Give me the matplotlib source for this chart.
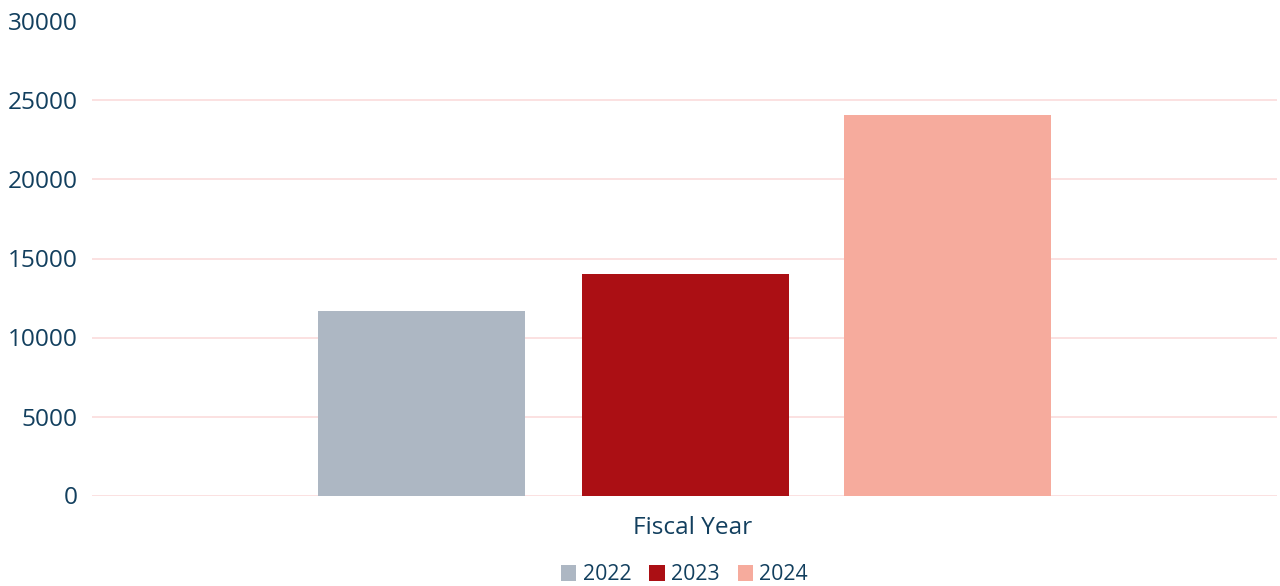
import matplotlib
matplotlib.use("Agg")
import matplotlib.pyplot as plt
from matplotlib.patches import Patch
from matplotlib.transforms import ScaledTranslation

categories = ["Fiscal Year"]
series_names = ["2022", "2023", "2024"]
values_2022 = [11680]
values_2023 = [14020]
values_2024 = [24080]
series_values = [values_2022, values_2023, values_2024]
colors = ["#adb7c3", "#ab0f14", "#f6ab9d"]
yticks = [0, 5000, 10000, 15000, 20000, 25000, 30000]

text_color = "#123f5e"
plt.rcParams['font.family'] = ['Open Sans', 'DejaVu Sans']

W, H = 1280, 586
fig = plt.figure(figsize=(W / 100, H / 100), dpi=100)
ax = fig.add_axes([92 / W, 1 - 495.5 / H, (1277 - 92) / W, (495.5 - 21.5) / H])

bar_w = 207 / 1185
offsets = [-263 / 1185, 0.5 / 1185, 263 / 1185]
x = list(range(len(categories)))
for name, vals, c, off in zip(series_names, series_values, colors, offsets):
    ax.bar([xi + off for xi in x], vals, width=bar_w, color=c, label=name, zorder=3)

ax.set_xlim(-0.5, len(categories) - 0.5)
ax.set_ylim(0, 30000)
ax.set_yticks(yticks)
ax.set_yticklabels([str(t) for t in yticks])
ax.set_xticks(x)
ax.set_xticklabels(categories)
ax.tick_params(axis='y', length=0, pad=10.5, labelsize=17.6, labelcolor=text_color)
ax.tick_params(axis='x', length=0, pad=15, labelsize=17.6, labelcolor=text_color)
for lbl in ax.get_xticklabels():
    lbl.set_transform(lbl.get_transform() + ScaledTranslation(8 / 100, 0, fig.dpi_scale_trans))
ax.grid(axis='y', color='#fbdcdc', linewidth=1.2, zorder=0)
for s in ax.spines.values():
    s.set_visible(False)

handles = [Patch(facecolor=c, label=n) for n, c in zip(series_names, colors)]
leg = fig.legend(handles=handles, loc='center', bbox_to_anchor=(684.5 / W, 1 - 575 / H), ncol=3,
                 frameon=False, fontsize=15.3, handlelength=0.72, handleheight=0.72,
                 handletextpad=0.3, columnspacing=0.85, borderpad=0)
for t in leg.get_texts():
    t.set_color(text_color)

fig.savefig("out.png", dpi=100)
